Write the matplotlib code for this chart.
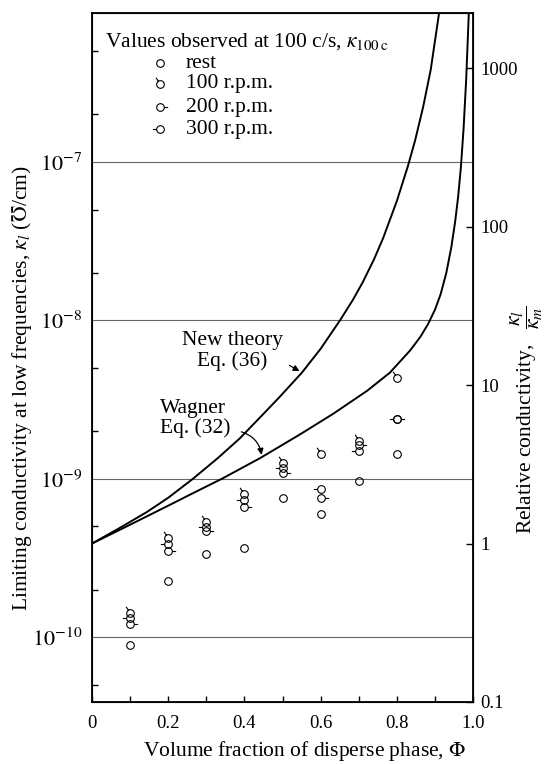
import numpy as np
import matplotlib
matplotlib.use("Agg")
import matplotlib.pyplot as plt
from matplotlib.path import Path
from matplotlib.ticker import FixedLocator, NullLocator, FuncFormatter, NullFormatter

plt.rcParams['font.family'] = ['Liberation Serif', 'DejaVu Serif']
plt.rcParams['mathtext.fontset'] = 'stix'

# measured points, kappa at 100 c/s
phi = [0.1, 0.2, 0.3, 0.4, 0.5, 0.6, 0.7, 0.8]
k_rest = [8.9e-11, 2.25e-10, 3.37e-10, 3.68e-10, 7.6e-10, 6.03e-10, 9.7e-10, 1.44e-9]
k_100 = [1.42e-10, 4.2e-10, 5.37e-10, 8.05e-10, 1.26e-9, 1.44e-9, 1.74e-9, 4.35e-9]
k_200 = [1.22e-10, 3.52e-10, 4.65e-10, 6.67e-10, 1.09e-9, 7.6e-10, 1.64e-9, 2.40e-9]
k_300 = [1.32e-10, 3.9e-10, 4.99e-10, 7.38e-10, 1.17e-9, 8.65e-10, 1.50e-9, 2.40e-9]

# theory curves (log10 of kappa)
new_phi = [0.0, 0.073, 0.144, 0.2, 0.265, 0.33, 0.388, 0.433, 0.49, 0.551, 0.6,
           0.651, 0.685, 0.711, 0.74, 0.764, 0.8, 0.829, 0.848, 0.869, 0.889, 0.911]
new_logk = [-9.409, -9.31, -9.21, -9.12, -9.0, -8.87, -8.745, -8.633, -8.49, -8.33,
            -8.18, -8.0, -7.87, -7.758, -7.616, -7.482, -7.248, -7.028, -6.865,
            -6.655, -6.419, -6.06]
wag_phi = [0.0, 0.1, 0.2, 0.27, 0.341, 0.441, 0.546, 0.633, 0.722, 0.782, 0.835,
           0.862, 0.882, 0.9, 0.915, 0.93, 0.943, 0.953, 0.961, 0.968, 0.975, 0.982,
           0.988, 0.989]
wag_logk = [-9.409, -9.29, -9.17, -9.085, -9.0, -8.87, -8.72, -8.59, -8.445,
            -8.33, -8.19, -8.104, -8.024, -7.934, -7.836, -7.70, -7.54, -7.38,
            -7.22, -7.04, -6.80, -6.485, -6.125, -6.06]

kappa_m = 3.9e-10
ylim = (3.9e-11, 8.7e-7)
left_ticks = [1e-10, 1e-9, 1e-8, 1e-7]
left_minor = [5e-11, 2e-10, 5e-10, 2e-9, 5e-9, 2e-8, 5e-8, 2e-7, 5e-7]
right_ticks = [0.1, 1, 10, 100, 1000]
right_labels = ['0.1', '1', '10', '100', '1000']


def tick_marker(p0, p1):
    c = Path.unit_circle()
    verts = np.concatenate([c.vertices, [p0, p1], [(0, -2.0)]])
    codes = np.concatenate([c.codes, [Path.MOVETO, Path.LINETO, Path.MOVETO]])
    return Path(verts, codes)


m100 = tick_marker((-0.55, 0.85), (-1.15, 1.75))
m200 = tick_marker((1.0, 0.0), (2.0, 0.0))
m300 = tick_marker((-1.0, 0.0), (-2.0, 0.0))

fs = 15.5
fig = plt.figure(figsize=(5.44, 7.64), dpi=100)
ax = fig.add_axes([92 / 544, 62 / 764, 381 / 544, 689 / 764])

ax.plot(new_phi, 10 ** np.array(new_logk), color='k', lw=1.4)
ax.plot(wag_phi, 10 ** np.array(wag_logk), color='k', lw=1.4)

ms = 5.5
mk = dict(ls='none', mfc='none', mec='k', mew=0.8)
ax.plot(phi, k_rest, marker='o', ms=ms, **mk)
ax.plot(phi, k_100, marker=m100, ms=2 * ms, **mk)
ax.plot(phi, k_200, marker=m200, ms=2 * ms, **mk)
ax.plot(phi, k_300, marker=m300, ms=2 * ms, **mk)

ax.set_yscale('log')
ax.set_xlim(0, 1)
ax.set_ylim(*ylim)
ax.grid(axis='y', which='major', color='0.4', lw=0.8)

ax.xaxis.set_major_locator(FixedLocator([0, 0.2, 0.4, 0.6, 0.8, 1.0]))
ax.xaxis.set_minor_locator(FixedLocator([0.1, 0.3, 0.5, 0.7, 0.9]))
ax.xaxis.set_major_formatter(FuncFormatter(lambda v, p: '0' if v == 0 else '%.1f' % v))
ax.xaxis.set_minor_formatter(NullFormatter())
ax.yaxis.set_major_locator(FixedLocator(left_ticks))
ax.yaxis.set_minor_locator(FixedLocator(left_minor))
ax.yaxis.set_major_formatter(FuncFormatter(
    lambda v, p: r'$10^{%d}$' % int(round(np.log10(v)))))
ax.yaxis.set_minor_formatter(NullFormatter())
ax.tick_params(which='both', direction='in', width=1)
ax.tick_params(axis='y', which='major', length=0, pad=7, labelsize=16)
ax.tick_params(axis='y', which='minor', length=4)
ax.tick_params(axis='x', which='both', length=4, pad=9, labelsize=13.5)
for s in ax.spines.values():
    s.set_linewidth(1.3)

ax2 = ax.twinx()
ax2.set_yscale('log')
ax2.set_ylim(ylim[0] / kappa_m, ylim[1] / kappa_m)
ax2.yaxis.set_major_locator(FixedLocator(right_ticks))
ax2.yaxis.set_minor_locator(NullLocator())
ax2.set_yticklabels(right_labels)
ax2.tick_params(direction='in', labelsize=13.5, length=5, width=1, pad=5)

ax.set_xlabel('Volume fraction of disperse phase, $\\Phi$', fontsize=fs,
              ha='center', va='center')
ax.xaxis.set_label_coords(0.559, -0.071)
ax.set_ylabel(r'Limiting conductivity at low frequencies, $\kappa_l$ ($\mho$/cm)',
              fontsize=fs, ha='center', va='center')
ax.yaxis.set_label_coords(-0.184, 0.455)
ax2.set_ylabel(r'Relative conductivity,$\quad\dfrac{\kappa_l}{\kappa_m}$', fontsize=fs,
               ha='center', va='center')
ax2.yaxis.set_label_coords(1.14, 0.41)

# curve labels
ax.text(0.501, 6.4e-9, 'New theory\nEq. (36)', ha='right', va='center',
        ma='center', fontsize=fs, linespacing=1.05)
ax.annotate('', xy=(0.551, 4.68e-9), xytext=(0.512, 5.3e-9),
            arrowprops=dict(arrowstyle='-|>', color='k', lw=0.9, mutation_scale=9))
ax.text(0.178, 2.4e-9, 'Wagner\nEq. (32)', ha='left', va='center',
        fontsize=fs, linespacing=1.05)
ax.annotate('', xy=(0.446, 1.36e-9), xytext=(0.385, 2.0e-9),
            arrowprops=dict(arrowstyle='-|>', color='k', lw=0.9, mutation_scale=9,
                            connectionstyle='arc3,rad=-0.35'))

# legend block
tr = ax.transAxes
ax.text(0.034, 0.958, r'Values observed at 100 c/s, $\kappa_{100\,\mathrm{c}}$',
        transform=tr, fontsize=fs, va='center')
rows = [('rest', 'o', ms), ('100 r.p.m.', m100, 2 * ms),
        ('200 r.p.m.', m200, 2 * ms), ('300 r.p.m.', m300, 2 * ms)]
row_y = [0.927, 0.897, 0.863, 0.831]
for (lab, m, s), yy in zip(rows, row_y):
    ax.plot([0.178], [yy], marker=m, ms=s, transform=tr, **mk)
    ax.text(0.247, yy, lab, transform=tr, fontsize=fs, va='center')

fig.savefig('out.png', dpi=100)
